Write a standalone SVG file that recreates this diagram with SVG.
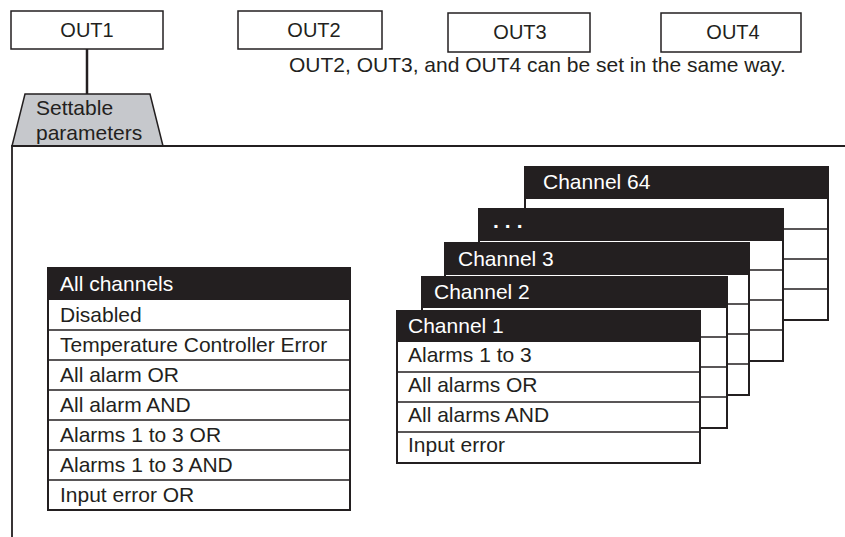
<svg xmlns="http://www.w3.org/2000/svg" width="845" height="537" viewBox="0 0 845 537">
<style>
text{font-family:"Liberation Sans",Arial,Helvetica,sans-serif;font-size:21px;fill:#231f20}
.out{font-size:20px}
.box{fill:#fff;stroke:#231f20;stroke-width:1.5}
.hd{fill:#231f20}
.wt{fill:#fff}
.sep{stroke:#231f20;stroke-width:1.5;fill:none}
.blk{fill:#fff;stroke:#231f20;stroke-width:2}
.ln{stroke:#231f20;fill:none}
</style>
<rect width="845" height="537" fill="#fff"/>
<g id="out1"><rect class="box" x="11" y="11" width="152" height="38"/><text class="out" x="87" y="37" text-anchor="middle">OUT1</text></g>
<g id="out2"><rect class="box" x="238" y="11" width="144" height="38"/><text class="out" x="314" y="37" text-anchor="middle">OUT2</text></g>
<g id="out3"><rect class="box" x="448" y="13" width="142" height="39"/><text class="out" x="520" y="39" text-anchor="middle">OUT3</text></g>
<g id="out4"><rect class="box" x="661" y="13" width="140" height="39"/><text class="out" x="733" y="39" text-anchor="middle">OUT4</text></g>
<g id="note"><text x="289" y="72">OUT2, OUT3, and OUT4 can be set in the same way.</text></g>
<g id="connectors"><line class="ln" x1="87" y1="49" x2="87" y2="94" stroke-width="2.5"/></g>
<g id="settable">
<polygon points="25,94 150,94 163,146 12,146" fill="#c6c8cc" stroke="#231f20" stroke-width="1.5"/>
<text x="36" y="115">Settable</text>
<text x="36" y="140">parameters</text>
</g>
<g id="frame"><polyline class="ln" points="845,146 12,146 12,537" stroke-width="1.8"/></g>
<g id="all-channels">
<rect class="blk" x="48" y="268" width="302" height="242"/>
<rect class="hd" x="48" y="268" width="302" height="32"/>
<path class="sep" d="M48 330H350M48 360H350M48 390H350M48 420H350M48 450H350M48 480H350"/>
<text class="wt" x="60" y="291">All channels</text>
<text x="60" y="322">Disabled</text>
<text x="60" y="352">Temperature Controller Error</text>
<text x="60" y="382">All alarm OR</text>
<text x="60" y="412">All alarm AND</text>
<text x="60" y="442">Alarms 1 to 3 OR</text>
<text x="60" y="472">Alarms 1 to 3 AND</text>
<text x="60" y="502">Input error OR</text>
</g>
<g id="channel64" transform="translate(525,167)">
<rect class="blk" x="0" y="0" width="303" height="153" stroke="#555"/>
<rect class="hd" x="0" y="0" width="303" height="32"/>
<path class="sep" d="M0 62H303M0 92H303M0 122H303" stroke="#666"/>
<text class="wt" x="18" y="22">Channel 64</text>
</g>
<g id="channel-dots" transform="translate(479,209)">
<rect class="blk" x="0" y="0" width="304" height="152"/>
<rect class="hd" x="0" y="0" width="304" height="32"/>
<path class="sep" d="M0 61H304M0 91H304M0 121H304" stroke="#555"/>
<text class="wt" x="14" y="19" font-weight="bold" letter-spacing="6">...</text>
</g>
<g id="channel3" transform="translate(445,243)">
<rect class="blk" x="0" y="0" width="304" height="152"/>
<rect class="hd" x="0" y="0" width="304" height="32"/>
<path class="sep" d="M0 61H304M0 91H304M0 121H304"/>
<text class="wt" x="13" y="23">Channel 3</text>
</g>
<g id="channel2" transform="translate(422,277)">
<rect class="blk" x="0" y="0" width="305" height="151"/>
<rect class="hd" x="0" y="0" width="305" height="31"/>
<path class="sep" d="M0 60H305M0 90H305M0 120H305"/>
<text class="wt" x="12" y="22">Channel 2</text>
</g>
<g id="channel1" transform="translate(397,311)">
<rect class="blk" x="0" y="0" width="303" height="152"/>
<rect class="hd" x="0" y="0" width="303" height="31"/>
<path class="sep" d="M0 61H303M0 91H303M0 121H303"/>
<text class="wt" x="11" y="22">Channel 1</text>
<text x="11" y="51">Alarms 1 to 3</text>
<text x="11" y="81">All alarms OR</text>
<text x="11" y="111">All alarms AND</text>
<text x="11" y="141">Input error</text>
</g>
</svg>
